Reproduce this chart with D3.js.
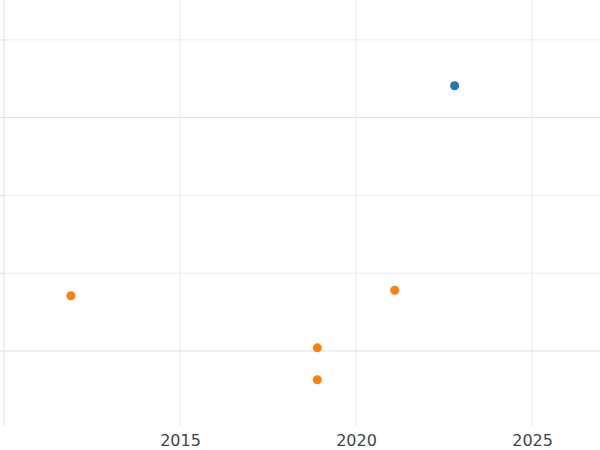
<!DOCTYPE html>
<html><head><meta charset="utf-8">
<script src="https://cdn.jsdelivr.net/npm/d3@7"></script>
<style>body{margin:0;background:#fff}</style></head>
<body><svg id="c" width="600" height="450"></svg>
<script>
const xTicks = [2015, 2020, 2025];
const yTicks = [1, 2, 3, 4, 5];
const yMajor = [1, 4];
const blueX = [2022.8];
const blueY = [4.41];
const orangeX = [2011.9, 2018.9, 2018.9, 2021.1];
const orangeY = [1.71, 1.04, 0.63, 1.78];

const svg = d3.select("#c");
const x = d3.scaleLinear().domain([2010, 2026.93]).range([4, 600]);
const y = d3.scaleLinear().domain([0.035, 5.5]).range([426, 1]);

const g = svg.append("g");
g.selectAll(".vx").data(xTicks).join("line")
 .attr("x1", d => x(d)).attr("x2", d => x(d)).attr("y1", 0).attr("y2", 426)
 .attr("stroke", "#ebebeb");
g.selectAll(".hy").data(yTicks).join("line")
 .attr("x1", 4).attr("x2", 600).attr("y1", d => y(d)).attr("y2", d => y(d))
 .attr("stroke", d => yMajor.includes(d) ? "#dedede" : "#ebebeb");
g.selectAll(".ty").data(yTicks).join("line")
 .attr("x1", 0).attr("x2", 4).attr("y1", d => y(d)).attr("y2", d => y(d))
 .attr("stroke", "#dddddd");
g.append("line").attr("x1", 4).attr("x2", 4).attr("y1", 0).attr("y2", 426).attr("stroke", "#dddddd");

const xa = svg.append("g").attr("transform", "translate(0,426)")
 .call(d3.axisBottom(x).tickValues(xTicks).tickFormat(d3.format("d")).tickSize(0).tickPadding(9));
xa.select(".domain").remove();
xa.selectAll("text").attr("font-family", "DejaVu Sans").attr("font-size", 16).attr("fill", "#444");

svg.selectAll(".b").data(blueX).join("circle")
 .attr("cx", d => x(d)).attr("cy", (d, i) => y(blueY[i])).attr("r", 4.5).attr("fill", "#1f77b4");
svg.selectAll(".o").data(orangeX).join("circle")
 .attr("cx", d => x(d)).attr("cy", (d, i) => y(orangeY[i])).attr("r", 4.5).attr("fill", "#ff7f0e");
</script></body></html>
